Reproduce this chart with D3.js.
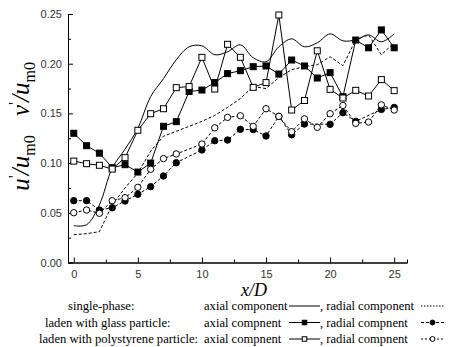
<!DOCTYPE html>
<html>
<head>
<meta charset="utf-8">
<title>Turbulence intensity along x/D</title>
<script src="https://cdn.jsdelivr.net/npm/d3@7"></script>
<style>
body { margin: 0; background: #fff; }
svg { display: block; }
.tick text { font-family: "Liberation Sans", Arial, sans-serif; font-size: 11px; fill: #333; }
.axis path, .axis line { stroke: #000; stroke-width: 1; }
.legend text { font-family: "Liberation Serif", "Times New Roman", serif; font-size: 12.6px; fill: #000; }
</style>
</head>
<body>
<svg id="chart" width="454" height="347"></svg>
<script>
// x/D stations
var stations = [0,1,2,3,4,5,6,7,8,9,10,11,12,13,14,15,16,17,18,19,20,21,22,23,24,25];
var radialStations = [0,1,2,3,4,5,6,7,8,10,11,12,13,14,15,16,17,18,19,20,21,22,23,24,25];
var glassRadialStations = [0,1,2,3,4,5,6,7,8,10,11,12,13,14,15,16,17,18,20,21,22,24,25];

// single-phase (no markers)
var singleAxial = [0.037,0.038,0.058,0.095,0.114,0.135,0.167,0.185,0.204,0.217,0.218,0.209,0.212,0.219,0.206,0.202,0.217,0.225,0.217,0.221,0.230,0.223,0.224,0.229,0.222,0.230];
var singleRadial = [0.028,0.029,0.031,0.058,0.075,0.090,0.112,0.127,0.132,0.137,0.142,0.148,0.156,0.165,0.177,0.175,0.186,0.194,0.197,0.199,0.207,0.198,0.224,0.229,0.209,0.221];

// laden with glass particle
var glassAxial = [0.130,0.1175,0.110,0.0954,0.0984,0.091,0.100,0.137,0.1417,0.172,0.1735,0.181,0.190,0.193,0.197,0.1977,0.1896,0.2037,0.1977,0.1856,0.191,0.1668,0.2238,0.216,0.234,0.216];
var glassRadial = [0.0622,0.0622,0.0528,0.0551,0.0619,0.0686,0.0763,0.087,0.1004,0.1132,0.1225,0.1232,0.134,0.1337,0.1273,0.147,0.1285,0.1393,0.139,0.1507,0.142,0.154,0.156];

// laden with polystyrene particle
var psAxial = [0.102,0.0994,0.0978,0.094,0.1055,0.133,0.1497,0.1547,0.1759,0.177,0.2064,0.1745,0.2195,0.2064,0.1762,0.181,0.249,0.1534,0.1630,0.213,0.1742,0.1655,0.1732,0.1675,0.184,0.1729];
var psRadial = [0.0501,0.0528,0.0495,0.0622,0.0652,0.0756,0.0938,0.1045,0.1092,0.1192,0.1355,0.146,0.1476,0.137,0.1547,0.147,0.1316,0.1445,0.136,0.1497,0.158,0.140,0.1413,0.1586,0.1534];

var xMajor = [0,5,10,15,20,25];
var xMinor = [2.5,7.5,12.5,17.5,22.5];
var yMajor = [0,0.05,0.10,0.15,0.20,0.25];
var yMinor = [0.025,0.075,0.125,0.175,0.225];

var svg = d3.select("#chart");
var x = d3.scaleLinear().domain([-0.45, 26]).range([68, 407]);
var y = d3.scaleLinear().domain([0, 0.25]).range([262.5, 14]);

function zip(xs, ys) {
  return xs.map(function (d, i) { return [d, ys[i]]; });
}

// axes
svg.append("g").attr("class", "axis")
  .attr("transform", "translate(0," + y(0) + ")")
  .call(d3.axisBottom(x).tickValues(xMinor).tickSize(-3).tickFormat(""));
svg.append("g").attr("class", "axis")
  .attr("transform", "translate(0," + y(0) + ")")
  .call(d3.axisBottom(x).tickValues(xMajor).tickSizeInner(-5).tickSizeOuter(0).tickPadding(8));
svg.append("g").attr("class", "axis")
  .attr("transform", "translate(" + x.range()[0] + ",0)")
  .call(d3.axisLeft(y).tickValues(yMinor).tickSize(-3).tickFormat(""));
svg.append("g").attr("class", "axis")
  .attr("transform", "translate(" + x.range()[0] + ",0)")
  .call(d3.axisLeft(y).tickValues(yMajor).tickSizeInner(-5).tickSizeOuter(0).tickPadding(6).tickFormat(d3.format(".2f")));

// lines
var straight = d3.line().x(function (d) { return x(d[0]); }).y(function (d) { return y(d[1]); });
var smooth = d3.line().curve(d3.curveCatmullRom.alpha(0.5))
  .x(function (d) { return x(d[0]); }).y(function (d) { return y(d[1]); });

var series = [
  { pts: zip(stations, singleAxial), line: smooth, dash: null, marker: null },
  { pts: zip(stations, singleRadial), line: straight, dash: "3,2", marker: null },
  { pts: zip(stations, glassAxial), line: straight, dash: null, marker: "fsq" },
  { pts: zip(glassRadialStations, glassRadial), line: straight, dash: "3,2", marker: "fci" },
  { pts: zip(stations, psAxial), line: straight, dash: null, marker: "osq" },
  { pts: zip(radialStations, psRadial), line: straight, dash: "3,2", marker: "oci" }
];

series.forEach(function (s) {
  svg.append("path")
    .attr("d", s.line(s.pts))
    .attr("fill", "none")
    .attr("stroke", "#000")
    .attr("stroke-width", 1)
    .attr("stroke-dasharray", s.dash);
});

function drawMarker(g, type, cx, cy, size) {
  var h = size / 2;
  if (type === "fsq" || type === "osq") {
    g.append("rect")
      .attr("x", cx - h).attr("y", cy - h).attr("width", size).attr("height", size)
      .attr("fill", type === "fsq" ? "#000" : "#fff")
      .attr("stroke", "#000").attr("stroke-width", 1);
  } else {
    g.append("circle")
      .attr("cx", cx).attr("cy", cy).attr("r", h + 0.2)
      .attr("fill", type === "fci" ? "#000" : "#fff")
      .attr("stroke", "#000").attr("stroke-width", 1);
  }
}

series.forEach(function (s) {
  if (!s.marker) return;
  var g = svg.append("g");
  s.pts.forEach(function (p) { drawMarker(g, s.marker, x(p[0]), y(p[1]), 6); });
});

// axis titles
function yTitle(sym, cx, cy) {
  var t = svg.append("text")
    .attr("transform", "translate(" + cx + "," + cy + ") rotate(-90)")
    .attr("text-anchor", "middle")
    .attr("font-family", "Liberation Serif, Times New Roman, serif")
    .attr("font-size", 25);
  t.append("tspan").attr("font-style", "italic").text(sym);
  t.append("tspan").attr("font-size", 17).attr("dy", -9).text("'");
  t.append("tspan").attr("font-style", "italic").attr("dy", 9).text("/u");
  t.append("tspan").attr("font-size", 16).attr("dy", 6).text("m0");
}
yTitle("v", 29, 89);
yTitle("u", 29, 163);

svg.append("text")
  .attr("x", 254).attr("y", 296)
  .attr("text-anchor", "middle")
  .attr("font-family", "Liberation Serif, Times New Roman, serif")
  .attr("font-style", "italic")
  .attr("font-size", 18)
  .text("x/D");

// legend
var legendRows = [
  { label: "single-phase:", lx: 68, axial: "axial component", radial: ", radial component", sym: null, rsym: null, rdash: "1.5,1.5" },
  { label: "laden with glass particle:", lx: 45, axial: "axial compnent", radial: ", radial compnent", sym: "fsq", rsym: "fci", rdash: "3,2" },
  { label: "laden with polystyrene particle:", lx: 39, axial: "axial compnent", radial: ", radial compnent", sym: "osq", rsym: "oci", rdash: "2,2" }
];
var lg = svg.append("g").attr("class", "legend");
legendRows.forEach(function (r, i) {
  var by = 310 + i * 16.5;
  var cy = by - 4;
  lg.append("text").attr("x", r.lx).attr("y", by).text(r.label);
  lg.append("text").attr("x", 204).attr("y", by).text(r.axial);
  lg.append("line").attr("x1", 289).attr("x2", 320).attr("y1", cy).attr("y2", cy)
    .attr("stroke", "#000").attr("stroke-width", 1);
  if (r.sym) drawMarker(lg, r.sym, 304.5, cy, 4.5);
  lg.append("text").attr("x", 320).attr("y", by).text(r.radial);
  lg.append("line").attr("x1", 421).attr("x2", 444).attr("y1", cy).attr("y2", cy)
    .attr("stroke", "#000").attr("stroke-width", 1).attr("stroke-dasharray", r.rdash);
  if (r.rsym) drawMarker(lg, r.rsym, 432.5, cy, 4.5);
});
</script>
</body>
</html>
